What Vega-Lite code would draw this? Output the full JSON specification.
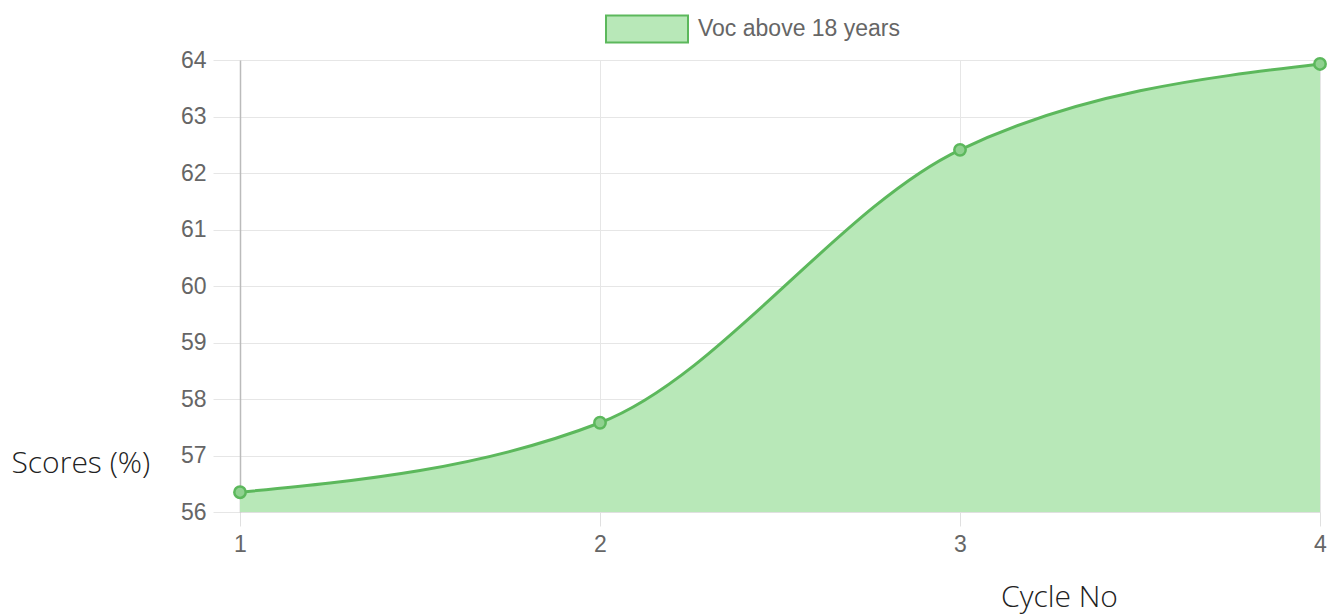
{
  "$schema": "https://vega.github.io/schema/vega-lite/v6.json",
  "autosize": {"type": "none"},
  "padding": {"left": 240, "top": 60, "right": 7, "bottom": 103},
  "width": 1080,
  "height": 452,
  "background": "white",
  "data": {"values": [
    {"cycle": 1, "score": 56.35, "series": "Voc above 18 years"},
    {"cycle": 2, "score": 57.58, "series": "Voc above 18 years"},
    {"cycle": 3, "score": 62.41, "series": "Voc above 18 years"},
    {"cycle": 4, "score": 63.93, "series": "Voc above 18 years"}
  ]},
  "encoding": {
    "x": {"field": "cycle", "type": "quantitative",
      "scale": {"domain": [1, 4], "nice": false},
      "axis": {"values": [1, 2, 3, 4], "format": "d", "title": "Cycle No",
        "titleFont": "Open Sans", "titleFontSize": 30, "titleFontWeight": 300, "titleColor": "#222",
        "titleAngle": 0, "titleX": 819, "titleY": 85, "titleAlign": "center", "titleBaseline": "middle",
        "labelFont": "Liberation Sans", "labelFontSize": 23, "labelColor": "#666", "labelPadding": 7,
        "tickSize": 14, "tickColor": "#e0e0e0", "domainColor": "#e0e0e0",
        "gridColor": "#e6e6e6", "labelFlush": false}},
    "y": {"field": "score", "type": "quantitative",
      "scale": {"domain": [56, 64], "nice": false, "zero": false},
      "axis": {"values": [56, 57, 58, 59, 60, 61, 62, 63, 64], "title": "Scores (%)",
        "titleFont": "Open Sans", "titleFontSize": 30, "titleFontWeight": 300, "titleColor": "#222",
        "titleAngle": 0, "titleX": -229, "titleY": 403, "titleAlign": "left", "titleBaseline": "middle",
        "labelFont": "Liberation Sans", "labelFontSize": 23, "labelColor": "#666", "labelPadding": 7,
        "tickSize": 27, "tickColor": "#e6e6e6", "domainColor": "#bbbbbb", "domainWidth": 1.5,
        "gridColor": "#e6e6e6"}}
  },
  "layer": [
    {"mark": {"type": "area", "interpolate": "monotone", "color": "#b8e8b8", "opacity": 1},
     "encoding": {"y2": {"datum": 56},
       "fill": {"field": "series", "type": "nominal",
         "scale": {"range": ["#b8e8b8"]},
         "legend": {"title": null, "orient": "none", "legendX": 365, "legendY": -73,
           "symbolType": "M-1,-0.33L1,-0.33L1,0.33L-1,0.33Z", "symbolSize": 6724,
           "symbolStrokeColor": "#5cb85c", "symbolStrokeWidth": 2, "symbolFillColor": "#b8e8b8",
           "symbolOpacity": 1, "labelLimit": 500,
           "labelFont": "Liberation Sans", "labelFontSize": 23, "labelColor": "#666", "labelOffset": 9}}}},
    {"mark": {"type": "line", "interpolate": "monotone", "color": "#5cb85c", "strokeWidth": 3}},
    {"mark": {"type": "point", "shape": "circle", "size": 130, "filled": true, "fill": "#8fd18f", "stroke": "#5cb85c", "strokeWidth": 2.5, "opacity": 1}}
  ]
}
